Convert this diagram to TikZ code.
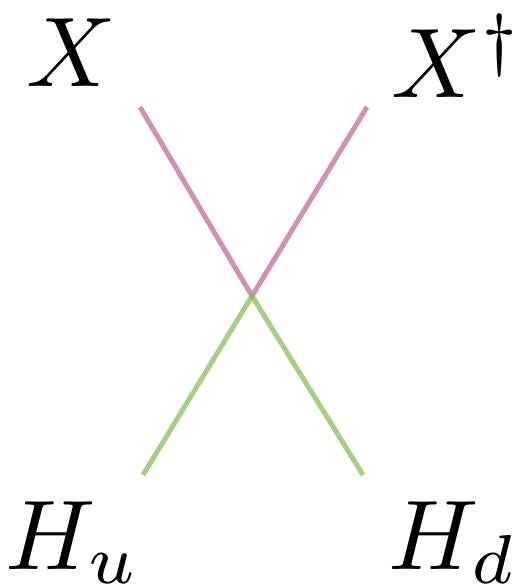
\documentclass[tikz,border=0pt]{standalone}
\usepackage{graphicx}
\definecolor{pinkline}{RGB}{192,110,150}
\definecolor{greenline}{RGB}{140,190,90}
\newcommand{\hugemath}[1]{\scalebox{9.9}{$#1$}}
\begin{document}
\begin{tikzpicture}[x=1pt,y=-1pt,
  lbl/.style={inner sep=0pt},
  pline/.style={draw=pinkline,line width=5pt,draw opacity=0.75},
  gline/.style={draw=greenline,line width=5pt,draw opacity=0.75}]
\useasboundingbox (0,0) rectangle (517,588);
\coordinate (c) at (252,296);
\coordinate (tl) at (140,107);
\coordinate (tr) at (367,107);
\coordinate (bl) at (143,475);
\coordinate (br) at (363,475);
\node[lbl,anchor=base] (x) at (71,87) {\hugemath{X}};
\node[lbl,anchor=base] (xd) at (457,98) {\hugemath{X^\dagger}};
\node[lbl,anchor=base] (hu) at (73,569) {\hugemath{H_u}};
\node[lbl,anchor=base] (hd) at (453,569) {\hugemath{H_d}};
\draw[pline] (tl) -- (c) -- (tr);
\draw[gline] (bl) -- (c) -- (br);
\end{tikzpicture}
\end{document}
